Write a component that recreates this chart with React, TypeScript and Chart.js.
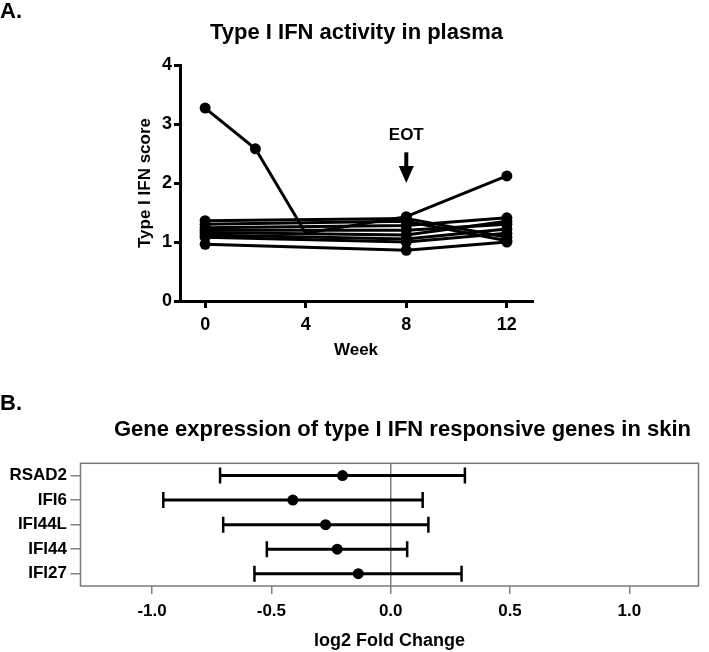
import React, { useEffect, useRef } from "react";
import { Chart, registerables } from "chart.js";
Chart.register(...registerables);

const FONT = "'Liberation Sans', Arial, Helvetica, sans-serif";

// ---------- Panel A data ----------
const weeksP1 = [0, 2, 4, 8, 12];
const patient1 = [3.27, 2.58, 1.15, 1.43, 2.12];
const patient1Marker = [true, true, false, true, true];
const weeks = [0, 8, 12];
const patient2 = [1.36, 1.4, 1.08];
const patient3 = [1.3, 1.35, 1.02];
const patient4 = [1.24, 1.28, 1.41];
const patient5 = [1.2, 1.2, 1.3];
const patient6 = [1.16, 1.12, 1.35];
const patient7 = [1.12, 1.05, 1.22];
const patient8 = [1.08, 1.0, 1.15];
const patient9 = [0.96, 0.86, 1.0];
const otherPatients = [patient2, patient3, patient4, patient5, patient6, patient7, patient8, patient9];
const weekTicks = [0, 4, 8, 12];
const eotWeek = 8;
const eotLabelValue = 2.81;
const eotArrowTop = 2.52;
const eotArrowHead = 2.29;
const eotArrowTip = 2.0;

// ---------- Panel B data ----------
const genes = ["RSAD2", "IFI6", "IFI44L", "IFI44", "IFI27"];
const foldChange = [-0.202, -0.41, -0.273, -0.224, -0.136];
const ciLow = [-0.715, -0.953, -0.702, -0.519, -0.571];
const ciHigh = [0.311, 0.134, 0.158, 0.069, 0.297];

const eotPlugin = {
  id: "eot",
  afterDatasetsDraw(chart: any) {
    const { ctx, scales } = chart;
    const x = scales.x.getPixelForValue(eotWeek);
    const yl = scales.y.getPixelForValue(eotLabelValue);
    const yt = scales.y.getPixelForValue(eotArrowTop);
    const yh = scales.y.getPixelForValue(eotArrowHead);
    const yp = scales.y.getPixelForValue(eotArrowTip);
    ctx.save();
    ctx.fillStyle = "#000";
    ctx.strokeStyle = "#000";
    ctx.font = `bold 17px ${FONT}`;
    ctx.textAlign = "center";
    ctx.textBaseline = "middle";
    ctx.fillText("EOT", x, yl);
    ctx.lineWidth = 4;
    ctx.beginPath();
    ctx.moveTo(x, yt);
    ctx.lineTo(x, yh + 1);
    ctx.stroke();
    ctx.beginPath();
    ctx.moveTo(x - 7.5, yh);
    ctx.lineTo(x + 7.5, yh);
    ctx.lineTo(x, yp);
    ctx.closePath();
    ctx.fill();
    ctx.restore();
  },
};

const framePlugin = {
  id: "frame",
  beforeDatasetsDraw(chart: any) {
    const { ctx, chartArea } = chart;
    ctx.save();
    ctx.strokeStyle = "#7a7a7a";
    ctx.lineWidth = 1.5;
    ctx.strokeRect(chartArea.left, chartArea.top, chartArea.right - chartArea.left, chartArea.bottom - chartArea.top);
    ctx.restore();
  },
};

function PlasmaChart() {
  const ref = useRef<HTMLCanvasElement>(null);
  useEffect(() => {
    const common = {
      borderColor: "#000",
      backgroundColor: "#000",
      borderWidth: 3,
      pointBackgroundColor: "#000",
      pointBorderColor: "#000",
      pointBorderWidth: 0,
      tension: 0,
      fill: false,
    };
    const datasets: any[] = [
      {
        ...common,
        data: weeksP1.map((w, i) => ({ x: w, y: patient1[i] })),
        pointRadius: patient1Marker.map((m) => (m ? 5.5 : 0)),
      },
      ...otherPatients.map((p) => ({
        ...common,
        data: weeks.map((w, i) => ({ x: w, y: p[i] })),
        pointRadius: 5.5,
      })),
    ];
    const chart = new Chart(ref.current!, {
      type: "line",
      data: { datasets },
      options: {
        animation: false,
        responsive: false,
        layout: { padding: { left: 125, right: 177, top: 65, bottom: 0 } },
        plugins: { legend: { display: false }, tooltip: { enabled: false } },
        scales: {
          x: {
            type: "linear",
            min: -1,
            max: 13,
            afterBuildTicks: (s: any) => {
              s.ticks = weekTicks.map((v) => ({ value: v }));
            },
            afterFit: (s: any) => {
              s.height = 69;
            },
            grid: { drawOnChartArea: false, drawTicks: true, tickLength: 7, tickColor: "#000", lineWidth: 3 },
            border: { display: true, color: "#000", width: 3 },
            ticks: { color: "#000", font: { family: FONT, size: 18, weight: "bold" }, padding: 6, autoSkip: false, maxRotation: 0 },
            title: { display: true, text: "Week", color: "#000", font: { family: FONT, size: 17, weight: "bold" }, padding: { top: 0, bottom: 9 } },
          },
          y: {
            type: "linear",
            min: 0,
            max: 4,
            afterFit: (s: any) => {
              s.width = 55;
            },
            grid: { drawOnChartArea: false, drawTicks: true, tickLength: 6, tickColor: "#000", lineWidth: 3 },
            border: { display: true, color: "#000", width: 3 },
            ticks: { stepSize: 1, color: "#000", font: { family: FONT, size: 18, weight: "bold" }, padding: 2 },
            title: { display: true, text: "Type I IFN score", color: "#000", font: { family: FONT, size: 17, weight: "bold" }, padding: { top: 10, bottom: 0 } },
          },
        },
      } as any,
      plugins: [eotPlugin],
    });
    return () => chart.destroy();
  }, []);
  return <canvas ref={ref} width={709} height={370} style={{ position: "absolute", left: 0, top: 0, display: "block" }} />;
}

function GeneChart() {
  const ref = useRef<HTMLCanvasElement>(null);
  useEffect(() => {
    const datasets: any[] = [
      {
        data: genes.map((g, i) => ({ x: foldChange[i], y: g })),
        showLine: false,
        pointRadius: 5.5,
        pointBackgroundColor: "#000",
        pointBorderColor: "#000",
        pointBorderWidth: 0,
      },
      ...genes.map((g, i) => ({
        data: [
          { x: ciLow[i], y: g },
          { x: ciHigh[i], y: g },
        ],
        showLine: true,
        borderColor: "#000",
        borderWidth: 3,
        pointStyle: "line",
        pointRotation: 90,
        pointRadius: 8,
        pointBorderWidth: 2.5,
        pointBorderColor: "#000",
        pointBackgroundColor: "#000",
      })),
    ];
    const chart = new Chart(ref.current!, {
      type: "scatter",
      data: { labels: genes, datasets },
      options: {
        animation: false,
        responsive: false,
        layout: { padding: { left: 0, right: 1.3, top: 83.3, bottom: 0 } },
        plugins: { legend: { display: false }, tooltip: { enabled: false } },
        scales: {
          x: {
            type: "linear",
            min: -1.3,
            max: 1.29,
            afterFit: (s: any) => {
              s.height = 66;
            },
            grid: {
              drawOnChartArea: true,
              drawTicks: true,
              tickLength: 8,
              tickColor: "#808080",
              tickWidth: 1.5,
              lineWidth: 1.5,
              color: (c: any) => (c.tick && c.tick.value === 0 ? "#808080" : "rgba(0,0,0,0)"),
            },
            border: { display: false },
            ticks: {
              stepSize: 0.5,
              includeBounds: false,
              color: "#000",
              font: { family: FONT, size: 17, weight: "bold" },
              padding: 7,
              callback: (v: any) => Number(v).toFixed(1),
            },
            title: { display: true, text: "log2 Fold Change", color: "#000", font: { family: FONT, size: 18, weight: "bold" }, padding: { top: 0, bottom: 0 } },
          },
          y: {
            type: "category",
            labels: genes,
            offset: true,
            afterFit: (s: any) => {
              s.width = 80.5;
            },
            grid: { offset: false, drawOnChartArea: false, drawTicks: true, tickLength: 10, tickColor: "#808080", tickWidth: 1.5, lineWidth: 1.5 },
            border: { display: false },
            ticks: { color: "#000", font: { family: FONT, size: 17, weight: "bold" }, padding: 3.5, autoSkip: false },
          },
        },
      } as any,
      plugins: [framePlugin],
    });
    return () => chart.destroy();
  }, []);
  return <canvas ref={ref} width={709} height={272} style={{ position: "absolute", left: 0, top: 380, display: "block" }} />;
}

const textStyle: React.CSSProperties = {
  position: "absolute",
  fontFamily: FONT,
  fontWeight: "bold",
  fontSize: 22,
  lineHeight: "22px",
  color: "#000",
  whiteSpace: "nowrap",
};

export default function App() {
  return (
    <div style={{ position: "fixed", left: 0, top: 0, width: 709, height: 652, background: "#fff", overflow: "hidden" }}>
      <PlasmaChart />
      <GeneChart />
      <div style={{ ...textStyle, left: 0, top: 0 }}>A.</div>
      <div style={{ ...textStyle, left: 106.5, width: 500, top: 21, textAlign: "center" }}>Type I IFN activity in plasma</div>
      <div style={{ ...textStyle, left: 0, top: 392 }}>B.</div>
      <div style={{ ...textStyle, left: 102.5, width: 600, top: 418, textAlign: "center" }}>Gene expression of type I IFN responsive genes in skin</div>
    </div>
  );
}
